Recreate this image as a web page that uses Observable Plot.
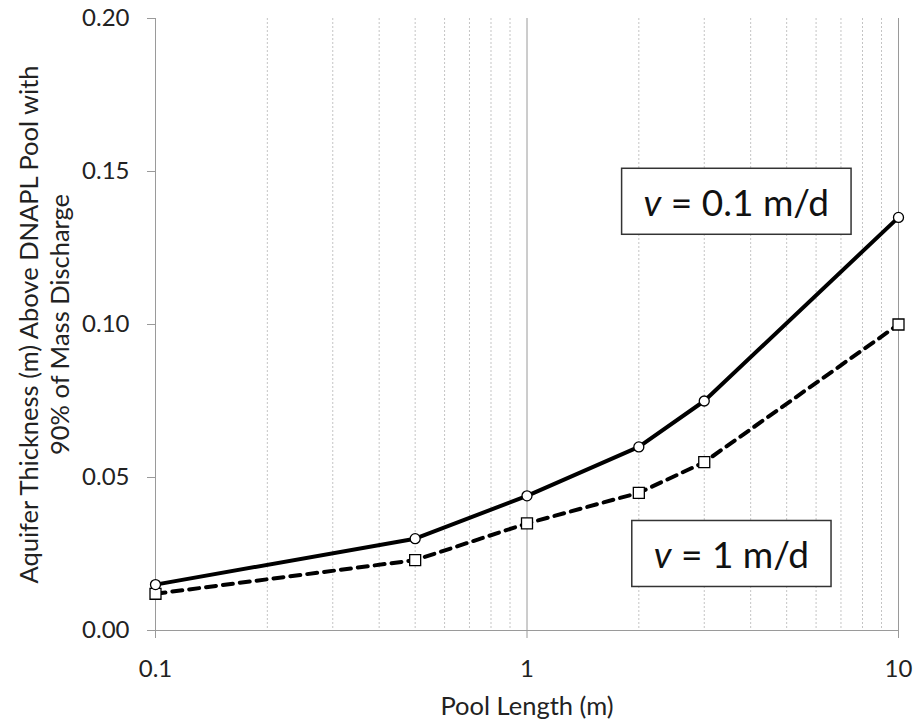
<!DOCTYPE html>
<html>
<head>
<meta charset="utf-8">
<script src="https://cdn.jsdelivr.net/npm/d3@7"></script>
<script src="https://cdn.jsdelivr.net/npm/@observablehq/plot@0.6"></script>
<style>
  html, body { margin: 0; padding: 0; background: white; }
</style>
</head>
<body>
<script>
// ---- data ----
const poolLength = [0.1, 0.5, 1, 2, 3, 10];
const thickV01 = [0.015, 0.030, 0.044, 0.060, 0.075, 0.135]; // v = 0.1 m/d
const thickV1 = [0.012, 0.023, 0.035, 0.045, 0.055, 0.100];  // v = 1 m/d
const xTicks = [0.1, 1, 10];
const xMajorGrid = [1, 10];
const xMinorGrid = [0.2, 0.3, 0.4, 0.5, 0.6, 0.7, 0.8, 0.9, 2, 3, 4, 5, 6, 7, 8, 9];
const yTicks = [0, 0.05, 0.10, 0.15, 0.20];
const xLabel = "Pool Length (m)";
const yLabel = "Aquifer Thickness (m) Above DNAPL Pool with\n90% of Mass Discharge";
const annotations = [
  {x: 3.66, y: 0.1394, label: "v = 0.1 m/d"},
  {x: 3.55, y: 0.0243, label: "v = 1 m/d"}
];

const s1 = poolLength.map((x, i) => ({x, y: thickV01[i]}));
const s2 = poolLength.map((x, i) => ({x, y: thickV1[i]}));

const font = "Lato, 'Open Sans', sans-serif";

const svg = Plot.plot({
  width: 916,
  height: 726,
  marginLeft: 155,
  marginRight: 18,
  marginTop: 18,
  marginBottom: 96,
  x: {type: "log", domain: [0.1, 10]},
  y: {domain: [0, 0.2]},
  style: {fontFamily: font, fontSize: "24px", color: "#222", background: "white"},
  marks: [
    Plot.ruleX(xMinorGrid, {stroke: "#c4c4c4", strokeWidth: 1, strokeDasharray: "2,2"}),
    Plot.ruleX(xMajorGrid, {stroke: "#9a9a9a", strokeWidth: 1}),
    Plot.ruleX([0.1], {stroke: "#9a9a9a", strokeWidth: 1}),
    Plot.ruleY([0], {stroke: "#9a9a9a", strokeWidth: 1}),
    Plot.axisY({ticks: yTicks, tickSize: 8, tickPadding: 18, tickFormat: d => d.toFixed(2), color: "#222", stroke: "#9a9a9a", fontSize: 24, label: null}),
    Plot.axisX({ticks: xTicks, tickSize: 8, tickPadding: 21, tickFormat: d => String(d), color: "#222", stroke: "#9a9a9a", fontSize: 24, label: null}),
    Plot.text([xLabel], {frameAnchor: "bottom", lineAnchor: "middle", dy: 76, fontSize: 25.5, fill: "#222"}),
    Plot.text([yLabel], {frameAnchor: "left", textAnchor: "middle", lineAnchor: "middle", rotate: -90, dx: -112, fontSize: 25.5, lineHeight: 1.2, fill: "#222"}),
    Plot.line(s2, {x: "x", y: "y", stroke: "black", strokeWidth: 4, strokeDasharray: "10,7"}),
    Plot.line(s1, {x: "x", y: "y", stroke: "black", strokeWidth: 4}),
    Plot.dot(s2, {x: "x", y: "y", symbol: "square", r: 6.2, fill: "white", stroke: "black", strokeWidth: 1.3}),
    Plot.dot(s1, {x: "x", y: "y", r: 5, fill: "white", stroke: "black", strokeWidth: 1.3}),
    Plot.text(annotations, {x: "x", y: "y", text: "label", fontSize: 37, fill: "#111", textAnchor: "middle", lineAnchor: "middle"})
  ]
});
document.body.append(svg);

// style annotation: italic v, framed white box
const ns = "http://www.w3.org/2000/svg";
const labels = new Set(annotations.map(d => d.label));
Array.from(svg.querySelectorAll("text"))
  .filter(t => labels.has(t.textContent))
  .forEach(t => {
    const s = t.textContent;
    t.textContent = "";
    const a = document.createElementNS(ns, "tspan");
    a.setAttribute("font-style", "italic");
    a.textContent = s.slice(0, 1);
    const b = document.createElementNS(ns, "tspan");
    b.textContent = s.slice(1);
    t.append(a, b);
    const bb = t.getBBox();
    const padX = 22, h = 66;
    const r = document.createElementNS(ns, "rect");
    r.setAttribute("x", bb.x - padX);
    r.setAttribute("y", bb.y + bb.height / 2 - h / 2);
    r.setAttribute("width", bb.width + 2 * padX);
    r.setAttribute("height", h);
    r.setAttribute("fill", "white");
    r.setAttribute("stroke", "#333");
    r.setAttribute("stroke-width", 1.5);
    const tr = t.getAttribute("transform");
    if (tr) r.setAttribute("transform", tr);
    t.parentNode.insertBefore(r, t);
  });
</script>
</body>
</html>
